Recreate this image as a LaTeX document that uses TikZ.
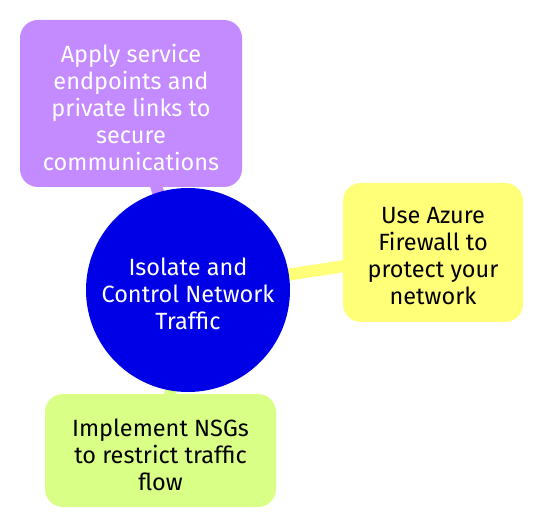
\documentclass[tikz,border=0pt]{standalone}
\usepackage{fontspec}
\setmainfont{Fira Sans}
\definecolor{cpurple}{HTML}{C48AFF}
\definecolor{cyellow}{HTML}{FFFF78}
\definecolor{cgreen}{HTML}{D9FF87}
\definecolor{cblue}{HTML}{0000E6}
\begin{document}
\begin{tikzpicture}[x=1pt,y=-1pt,
  leaf/.style={rectangle, rounded corners=18pt, inner sep=0pt},
  lbl/.style={inner sep=0pt, align=center, font=\fontsize{23.5}{27}\selectfont},
  conn/.style={line width=12pt}]
\useasboundingbox (0,0) rectangle (543,526);
\coordinate (c) at (188,290);
\coordinate (pc) at (131,103.5);
\coordinate (yc) at (433,252.5);
\coordinate (gc) at (160.5,450.5);
\draw[conn, cpurple] (c) -- (pc);
\draw[conn, cyellow] (c) -- (yc);
\draw[conn, cgreen] (c) -- (gc);
\node[leaf, fill=cpurple, minimum width=222pt, minimum height=167pt] (p) at (pc) {};
\node[leaf, fill=cyellow, minimum width=180pt, minimum height=139pt] (y) at (yc) {};
\node[leaf, fill=cgreen, minimum width=231pt, minimum height=113pt] (g) at (gc) {};
\node[circle, fill=cblue, minimum size=204pt, inner sep=0pt] (root) at (c) {};
\node[lbl, text=white] (pt) at ([yshift=-4pt]p.center)
  {Apply service\\endpoints and\\private links to\\secure\\communications};
\node[lbl, text=black] (yt) at ([yshift=-4pt]y.center)
  {Use Azure\\Firewall to\\protect your\\network};
\node[lbl, text=black] (gt) at ([yshift=-4pt]g.center)
  {Implement NSGs\\to restrict traffic\\flow};
\node[lbl, text=white] (rt) at ([yshift=-4pt]root.center)
  {Isolate and\\Control Network\\Traffic};
\end{tikzpicture}
\end{document}
